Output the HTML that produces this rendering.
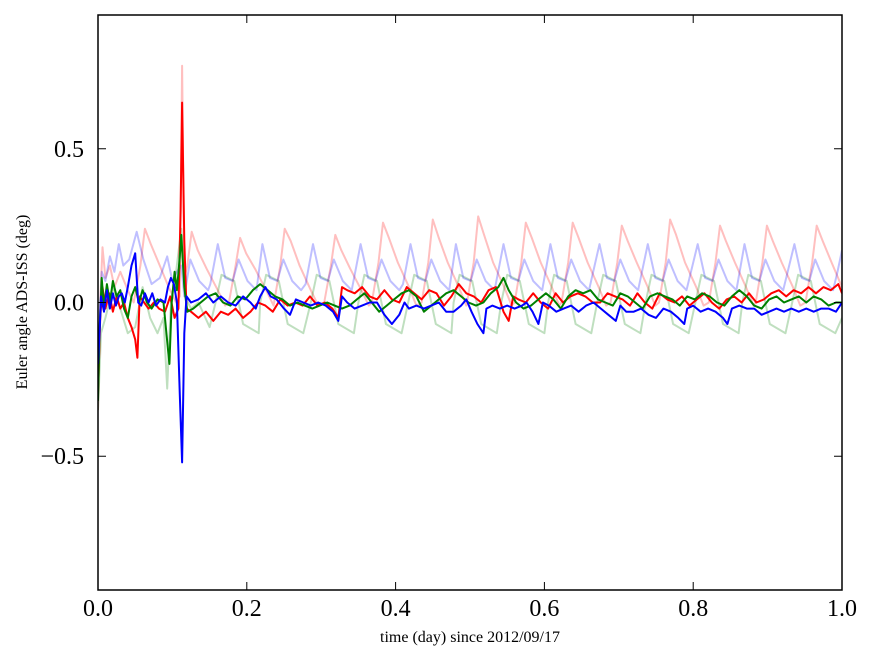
<!DOCTYPE html>
<html><head><meta charset="utf-8"><style>
html,body{margin:0;padding:0;background:#fff;}
svg{display:block;font-family:"Liberation Serif",serif;}
</style></head><body>
<svg id="chart" width="875" height="662" viewBox="0 0 875 662">
<rect x="0" y="0" width="875" height="662" fill="#fff"/>
<g id="series"></g>
<g id="axes"></g>
<text x="470" y="642" font-size="16" text-anchor="middle">time (day) since 2012/09/17</text>
<text transform="translate(27,302) rotate(-90)" font-size="16" text-anchor="middle">Euler angle ADS-ISS (deg)</text>
</svg>
<script>
const xTicks=[0,0.2,0.4,0.6,0.8,1.0];
const xTickLabels=["0.0","0.2","0.4","0.6","0.8","1.0"];
const yTicks=[0.5,0,-0.5];
const yTickLabels=["0.5","0.0","\u22120.5"];

const faintRedT=[0,0.003,0.006,0.010,0.016,0.022,0.030,0.040,0.048,0.057,0.063,0.071,0.083,0.095,0.105,0.110,0.113,0.116,0.120,0.126,0.134,0.146,0.161,0.171,0.176,0.185,0.191,0.199,0.211,0.226,0.236,0.245,0.251,0.259,0.271,0.286,0.296,0.304,0.313,0.319,0.327,0.339,0.354,0.364,0.368,0.377,0.383,0.391,0.403,0.418,0.428,0.435,0.444,0.450,0.458,0.470,0.485,0.495,0.496,0.505,0.511,0.519,0.531,0.546,0.556,0.560,0.569,0.575,0.583,0.595,0.610,0.620,0.623,0.632,0.638,0.646,0.658,0.673,0.683,0.689,0.698,0.704,0.712,0.724,0.739,0.749,0.754,0.763,0.769,0.777,0.789,0.804,0.814,0.821,0.830,0.836,0.844,0.856,0.871,0.881,0.884,0.893,0.899,0.907,0.919,0.934,0.944,0.951,0.960,0.966,0.974,0.986,1.0];
const faintRedV=[-0.35,0.0,0.18,0.08,0.12,0.05,0.10,0.04,0.0,0.12,0.24,0.19,0.12,0.05,0.0,0.02,0.77,0.08,0.12,0.23,0.17,0.11,0.04,-0.01,0.0,0.12,0.21,0.16,0.11,0.04,-0.01,0.12,0.24,0.2,0.12,0.04,-0.01,0.0,0.12,0.22,0.17,0.11,0.04,-0.01,0.0,0.13,0.26,0.21,0.13,0.05,-0.01,0.0,0.13,0.27,0.21,0.13,0.05,-0.01,0.0,0.13,0.28,0.22,0.13,0.05,-0.01,0.0,0.13,0.26,0.21,0.13,0.05,-0.01,0.0,0.13,0.26,0.21,0.13,0.05,-0.01,0.0,0.13,0.25,0.2,0.13,0.05,-0.01,0.0,0.13,0.27,0.22,0.13,0.05,-0.01,0.0,0.13,0.25,0.2,0.13,0.05,-0.01,0.0,0.13,0.25,0.2,0.13,0.05,-0.01,0.0,0.13,0.25,0.2,0.13,0.05];

const faintBlueT=[0,0.005,0.010,0.016,0.022,0.028,0.034,0.042,0.052,0.061,0.072,0.083,0.093,0.100,0.106,0.112,0.116,0.124,0.136,0.148,0.151,0.161,0.171,0.181,0.189,0.201,0.213,0.221,0.231,0.241,0.249,0.261,0.273,0.279,0.289,0.299,0.309,0.317,0.329,0.341,0.353,0.363,0.373,0.381,0.393,0.405,0.410,0.420,0.430,0.440,0.448,0.460,0.472,0.481,0.491,0.501,0.509,0.521,0.533,0.545,0.555,0.565,0.573,0.585,0.597,0.608,0.618,0.628,0.636,0.648,0.660,0.674,0.684,0.694,0.702,0.714,0.726,0.739,0.749,0.759,0.767,0.779,0.791,0.806,0.816,0.826,0.834,0.846,0.858,0.869,0.879,0.889,0.897,0.909,0.921,0.936,0.946,0.956,0.964,0.976,0.988,0.994,1.0];
const faintBlueV=[-0.2,0.1,0.07,0.15,0.1,0.19,0.12,0.14,0.23,0.14,0.06,0.08,0.15,0.07,0.1,0.12,0.02,0.14,0.07,0.04,0.06,0.19,0.08,0.07,0.14,0.07,0.04,0.19,0.08,0.07,0.14,0.07,0.04,0.06,0.19,0.08,0.07,0.14,0.07,0.04,0.19,0.08,0.07,0.14,0.07,0.04,0.06,0.19,0.08,0.07,0.14,0.07,0.04,0.19,0.08,0.07,0.14,0.07,0.04,0.19,0.08,0.07,0.14,0.07,0.04,0.19,0.08,0.07,0.14,0.07,0.04,0.19,0.08,0.07,0.14,0.07,0.04,0.19,0.08,0.07,0.14,0.07,0.04,0.19,0.08,0.07,0.14,0.07,0.04,0.19,0.08,0.07,0.14,0.07,0.04,0.19,0.08,0.07,0.14,0.07,0.04,0.1,0.17];

const faintGreenT=[0,0.004,0.010,0.020,0.030,0.040,0.050,0.060,0.070,0.080,0.088,0.093,0.098,0.105,0.112,0.117,0.125,0.135,0.150,0.158,0.166,0.183,0.195,0.216,0.218,0.226,0.243,0.255,0.276,0.286,0.294,0.311,0.323,0.344,0.350,0.358,0.375,0.387,0.408,0.417,0.425,0.442,0.454,0.475,0.478,0.486,0.503,0.515,0.536,0.542,0.550,0.567,0.579,0.600,0.605,0.613,0.630,0.642,0.663,0.671,0.679,0.696,0.708,0.729,0.736,0.744,0.761,0.773,0.794,0.803,0.811,0.828,0.840,0.861,0.866,0.874,0.891,0.903,0.924,0.933,0.941,0.958,0.970,0.991,1.0];
const faintGreenV=[-0.35,-0.1,-0.05,0.05,-0.02,-0.1,-0.08,0.05,-0.05,-0.1,-0.05,-0.28,0.0,0.1,0.24,0.02,-0.02,0.0,-0.08,0.0,0.09,0.07,-0.07,-0.1,0.0,0.09,0.07,-0.07,-0.1,0.0,0.09,0.07,-0.07,-0.1,0.0,0.09,0.07,-0.07,-0.1,0.0,0.09,0.07,-0.07,-0.1,0.0,0.09,0.07,-0.07,-0.1,0.0,0.09,0.07,-0.07,-0.1,0.0,0.09,0.07,-0.07,-0.1,0.0,0.09,0.07,-0.07,-0.1,0.0,0.09,0.07,-0.07,-0.1,0.0,0.09,0.07,-0.07,-0.1,0.0,0.09,0.07,-0.07,-0.1,0.0,0.09,0.07,-0.07,-0.1,-0.05];

const redT=[0,0.003,0.006,0.010,0.015,0.020,0.025,0.030,0.035,0.040,0.045,0.050,0.053,0.056,0.062,0.068,0.075,0.082,0.090,0.097,0.103,0.108,0.111,0.113,0.116,0.119,0.125,0.135,0.145,0.155,0.165,0.175,0.185,0.195,0.205,0.215,0.225,0.235,0.245,0.255,0.265,0.275,0.285,0.295,0.305,0.315,0.323,0.328,0.335,0.345,0.355,0.365,0.375,0.385,0.395,0.405,0.415,0.425,0.435,0.445,0.455,0.465,0.475,0.485,0.495,0.505,0.515,0.525,0.535,0.545,0.552,0.558,0.565,0.575,0.585,0.595,0.605,0.615,0.625,0.635,0.645,0.655,0.665,0.675,0.685,0.695,0.705,0.715,0.725,0.735,0.745,0.755,0.765,0.775,0.785,0.795,0.805,0.815,0.825,0.835,0.845,0.855,0.865,0.875,0.885,0.895,0.905,0.915,0.925,0.935,0.945,0.955,0.965,0.975,0.985,0.995,1.0];
const redV=[-0.30,-0.05,0.05,-0.02,0.03,-0.03,0.02,-0.02,0.0,-0.05,-0.08,-0.12,-0.18,0.02,0.0,-0.02,0.0,-0.02,-0.03,0.02,-0.05,-0.02,0.3,0.65,0.2,-0.02,-0.03,-0.05,-0.03,-0.06,-0.03,-0.04,-0.02,-0.05,-0.03,0.0,-0.01,-0.03,0.01,-0.01,0.0,-0.01,0.02,-0.01,0.0,-0.02,-0.05,0.05,0.04,0.03,0.05,0.02,0.01,0.04,0.01,0.0,0.05,0.03,0.01,0.04,0.03,-0.01,0.02,0.06,0.03,0.02,0.0,0.04,0.05,-0.03,-0.06,0.02,0.01,0.0,0.03,0.0,-0.02,0.03,0.0,0.02,0.03,0.02,0.0,0.0,0.03,0.02,0.01,-0.01,0.03,0.0,-0.02,0.03,0.01,0.0,0.02,-0.01,0.01,0.03,0.0,-0.02,0.01,0.02,0.0,0.03,0.0,0.01,0.03,0.04,0.02,0.04,0.03,0.05,0.03,0.05,0.04,0.06,0.03];

const greenT=[0,0.002,0.005,0.008,0.012,0.016,0.020,0.025,0.030,0.035,0.040,0.045,0.050,0.055,0.060,0.066,0.072,0.080,0.088,0.092,0.096,0.099,0.103,0.106,0.110,0.112,0.116,0.120,0.128,0.138,0.148,0.158,0.168,0.178,0.188,0.198,0.208,0.218,0.228,0.238,0.248,0.258,0.268,0.278,0.288,0.298,0.308,0.318,0.328,0.338,0.348,0.358,0.368,0.378,0.388,0.398,0.408,0.418,0.428,0.438,0.448,0.458,0.468,0.478,0.488,0.498,0.508,0.518,0.528,0.538,0.545,0.552,0.562,0.572,0.582,0.592,0.602,0.612,0.622,0.632,0.642,0.652,0.662,0.672,0.682,0.692,0.702,0.712,0.722,0.732,0.742,0.752,0.762,0.772,0.782,0.792,0.802,0.812,0.822,0.832,0.842,0.852,0.862,0.872,0.882,0.892,0.902,0.912,0.922,0.932,0.942,0.952,0.962,0.972,0.982,0.992,1.0];
const greenV=[-0.32,-0.1,0.08,-0.02,0.06,0.0,0.07,0.02,0.04,-0.02,-0.05,0.02,0.05,0.0,0.04,0.0,-0.02,0.01,0.0,-0.1,-0.2,0.0,0.1,0.04,0.15,0.22,0.05,-0.03,-0.02,0.0,0.02,0.03,0.0,-0.01,0.02,0.01,0.04,0.06,0.04,0.02,0.01,-0.01,0.0,-0.01,-0.02,-0.01,0.0,-0.01,-0.02,-0.01,0.01,0.03,0.0,-0.03,-0.01,0.01,0.03,0.04,0.02,-0.03,-0.01,0.01,0.03,0.04,0.02,0.0,-0.01,0.0,0.03,0.05,0.08,0.04,0.0,-0.02,-0.01,0.01,0.03,0.01,-0.02,0.02,0.04,0.03,0.04,0.01,0.0,-0.01,0.03,0.02,0.0,-0.02,0.02,0.03,0.02,0.01,-0.01,0.02,0.01,0.03,0.02,0.0,-0.01,0.02,0.04,0.02,-0.01,-0.02,0.01,0.02,0.0,0.01,0.02,0.0,0.02,0.01,-0.01,0.0,0.0];

const blueT=[0,0.002,0.004,0.008,0.012,0.016,0.020,0.024,0.028,0.032,0.036,0.040,0.045,0.050,0.054,0.058,0.063,0.068,0.073,0.078,0.084,0.090,0.094,0.098,0.102,0.106,0.110,0.113,0.116,0.119,0.125,0.135,0.145,0.155,0.165,0.175,0.185,0.195,0.205,0.212,0.218,0.225,0.232,0.240,0.250,0.258,0.266,0.276,0.286,0.296,0.306,0.316,0.323,0.328,0.335,0.345,0.355,0.365,0.375,0.385,0.395,0.405,0.412,0.418,0.428,0.438,0.448,0.458,0.468,0.478,0.488,0.495,0.502,0.510,0.518,0.522,0.530,0.540,0.550,0.560,0.570,0.576,0.584,0.592,0.598,0.606,0.616,0.626,0.636,0.646,0.656,0.666,0.676,0.686,0.696,0.702,0.710,0.720,0.730,0.740,0.750,0.760,0.770,0.780,0.788,0.792,0.800,0.810,0.820,0.830,0.840,0.846,0.852,0.862,0.872,0.882,0.892,0.902,0.912,0.922,0.932,0.942,0.952,0.962,0.972,0.982,0.992,1.0];
const blueV=[-0.2,-0.1,0.02,-0.03,0.04,-0.02,0.03,-0.01,0.02,0.03,0.0,0.05,0.12,0.16,0.0,-0.01,0.03,0.0,0.03,-0.01,0.01,0.0,0.05,0.08,0.06,0.0,-0.3,-0.52,-0.1,0.02,0.0,0.01,0.03,0.0,0.02,0.0,-0.01,0.02,0.0,-0.02,0.02,0.05,0.02,0.01,-0.02,-0.04,0.01,0.0,-0.01,0.0,-0.01,-0.03,-0.06,0.02,0.0,-0.02,-0.01,0.0,0.0,-0.04,-0.07,-0.04,0.0,-0.02,-0.01,-0.02,-0.01,0.0,-0.03,-0.03,-0.01,0.01,-0.03,-0.07,-0.1,-0.02,-0.01,-0.02,-0.01,-0.02,-0.01,0.0,-0.03,-0.07,0.0,-0.01,-0.03,-0.02,-0.01,-0.03,-0.01,0.0,-0.02,-0.04,-0.06,-0.01,-0.03,-0.03,-0.02,-0.04,-0.05,-0.02,-0.03,-0.05,-0.07,-0.02,-0.01,-0.03,-0.02,-0.03,-0.05,-0.07,-0.02,-0.01,-0.02,-0.02,-0.04,-0.03,-0.02,-0.03,-0.02,-0.03,-0.02,-0.03,-0.02,-0.02,-0.03,0.0];

const L=98,R=842,T=15,B=590,YMIN=-0.935,YMAX=0.935;
const xs=t=>L+(R-L)*t;
const ys=v=>B-(B-T)*(v-YMIN)/(YMAX-YMIN);
const NS="http://www.w3.org/2000/svg";
const sg=document.getElementById('series');
function line(ts,vs,color,op,name){
  const p=document.createElementNS(NS,'path');
  p.setAttribute('d',ts.map((t,i)=>(i?'L':'M')+xs(t).toFixed(1)+','+ys(vs[i]).toFixed(1)).join(''));
  p.setAttribute('fill','none');p.setAttribute('stroke',color);p.setAttribute('stroke-opacity',op);
  p.setAttribute('stroke-width','2');p.setAttribute('stroke-linejoin','round');
  
  
  sg.appendChild(p);
}
const cp=document.createElementNS(NS,'clipPath');cp.id='clip';
const cr=document.createElementNS(NS,'rect');cr.setAttribute('x',L);cr.setAttribute('y',T);cr.setAttribute('width',R-L);cr.setAttribute('height',B-T);
cp.appendChild(cr);document.getElementById('chart').appendChild(cp);
sg.setAttribute('clip-path','url(#clip)');
line(faintRedT,faintRedV,'#ff0000',0.25,'faint-red-series');
line(faintGreenT,faintGreenV,'#008000',0.25,'faint-green-series');
line(faintBlueT,faintBlueV,'#0000ff',0.25,'faint-blue-series');
line(redT,redV,'#ff0000',1,'red-series');
line(greenT,greenV,'#008000',1,'green-series');
line(blueT,blueV,'#0000ff',1,'blue-series');

const ag=document.getElementById('axes');
function el(tag,attrs,text){const e=document.createElementNS(NS,tag);for(const k in attrs)e.setAttribute(k,attrs[k]);if(text!==undefined)e.textContent=text;ag.appendChild(e);return e;}
const frame=el('rect',{x:L,y:T,width:R-L,height:B-T,fill:'none',stroke:'#000','stroke-width':1.5});


xTicks.forEach((t,i)=>{
  const x=xs(t);
  const a=el('line',{x1:x,y1:B,x2:x,y2:B-8,stroke:'#000'});
  
  
  const b=el('line',{x1:x,y1:T,x2:x,y2:T+8,stroke:'#000'});
  
  
  const lb=el('text',{x:x,y:616,'font-size':24,'text-anchor':'middle'},xTickLabels[i]);
  
  
});
yTicks.forEach((v,i)=>{
  const y=ys(v);
  const a=el('line',{x1:L,y1:y,x2:L+8,y2:y,stroke:'#000'});
  
  
  const b=el('line',{x1:R,y1:y,x2:R-8,y2:y,stroke:'#000'});
  
  
  const lb=el('text',{x:84,y:y+8,'font-size':24,'text-anchor':'end'},yTickLabels[i]);
  
  
});
</script>
</body></html>
